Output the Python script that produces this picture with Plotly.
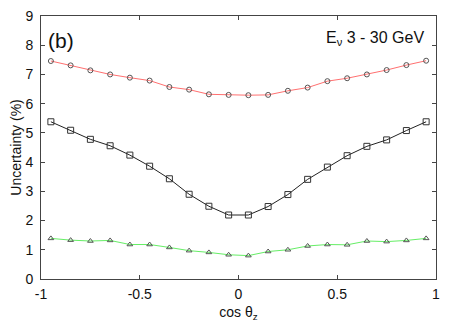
import plotly.graph_objects as go

cos_theta = [-0.95, -0.85, -0.75, -0.65, -0.55, -0.45, -0.35, -0.25, -0.15, -0.05,
             0.05, 0.15, 0.25, 0.35, 0.45, 0.55, 0.65, 0.75, 0.85, 0.95]
red_vals = [7.46, 7.31, 7.14, 7.00, 6.89, 6.79, 6.57, 6.48, 6.32, 6.30,
            6.29, 6.30, 6.44, 6.55, 6.77, 6.87, 7.00, 7.15, 7.32, 7.47]
black_vals = [5.38, 5.09, 4.78, 4.56, 4.24, 3.86, 3.43, 2.90, 2.49, 2.19,
              2.19, 2.48, 2.89, 3.41, 3.83, 4.22, 4.54, 4.76, 5.08, 5.38]
green_vals = [1.39, 1.33, 1.30, 1.32, 1.18, 1.18, 1.08, 0.97, 0.91, 0.83,
              0.80, 0.94, 1.00, 1.13, 1.18, 1.17, 1.30, 1.28, 1.32, 1.39]
x_ticks = [-1, -0.5, 0, 0.5, 1]
x_tick_labels = ["-1", "-0.5", "0", "0.5", "1"]
y_ticks = list(range(0, 10))

FONT = "Liberation Sans, Arial, sans-serif"

fig = go.Figure()
fig.add_trace(go.Scatter(
    x=cos_theta, y=red_vals, mode="lines+markers",
    line=dict(color="#ff7070", width=1),
    marker=dict(symbol="circle-open", size=5, color="#555555", line=dict(width=1)),
    showlegend=False))
fig.add_trace(go.Scatter(
    x=cos_theta, y=black_vals, mode="lines+markers",
    line=dict(color="#222222", width=1),
    marker=dict(symbol="square-open", size=6, color="#333333", line=dict(width=1)),
    showlegend=False))
fig.add_trace(go.Scatter(
    x=cos_theta, y=green_vals, mode="lines+markers",
    line=dict(color="#66ee66", width=1),
    marker=dict(symbol="triangle-up-open", size=5, color="#555555", line=dict(width=1)),
    showlegend=False))

axis_common = dict(
    showgrid=False, zeroline=False, showline=True, linecolor="#444444", linewidth=1,
    mirror="ticks", ticks="inside", ticklen=4, tickcolor="#444444", automargin=False,
    ticklabeloverflow="allow",
    tickfont=dict(family=FONT, size=14, color="#111111"),
)
fig.update_xaxes(range=[-1, 1], tickvals=x_ticks, ticktext=x_tick_labels,
                 ticklabelstandoff=2,
                 title=dict(text="cos θ<sub>z</sub>", font=dict(family=FONT, size=14, color="#111111")),
                 **axis_common)
fig.update_yaxes(range=[0, 9], tickvals=y_ticks, ticklabelstandoff=4,
                 title=dict(text="Uncertainty (%)", font=dict(family=FONT, size=14, color="#111111")),
                 **axis_common)

fig.add_annotation(text="(b)", xref="paper", yref="paper", x=0.013, y=0.958,
                   xanchor="left", yanchor="top", showarrow=False,
                   font=dict(family=FONT, size=21, color="#111111"))
fig.add_annotation(text="E<sub>ν</sub> 3 - 30 GeV", xref="paper", yref="paper", x=0.975, y=0.958,
                   xanchor="right", yanchor="top", showarrow=False,
                   font=dict(family=FONT, size=16, color="#111111"))

fig.update_layout(
    width=452, height=314,
    margin=dict(l=33, r=24, t=8, b=43, autoexpand=False),
    paper_bgcolor="white", plot_bgcolor="white",
)
fig.write_html("out.html")
